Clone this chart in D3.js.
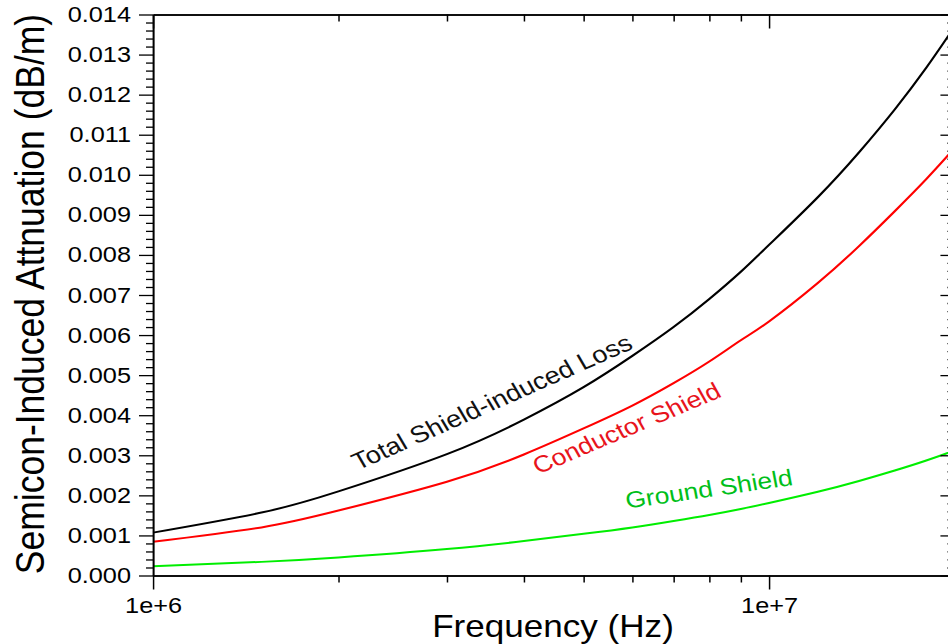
<!DOCTYPE html>
<html>
<head>
<meta charset="utf-8">
<script src="https://cdn.jsdelivr.net/npm/d3@7"></script>
<style>
  body { margin: 0; background: #fff; }
  svg { display: block; font-family: "Liberation Sans", Arial, Helvetica, sans-serif; }
</style>
</head>
<body>
<div id="wrapper"></div>
<script>
// Data
const freqs = [1e6, 1.5e6, 2e6, 3e6, 4e6, 5e6, 6e6, 7e6, 8e6, 9e6, 1e7, 1.2e7, 1.4e7, 1.6e7, 1.8e7, 2e7];
const totalLoss = [0.00107, 0.00157, 0.0021, 0.00303, 0.00389, 0.0047, 0.00548, 0.0062, 0.0069, 0.00758, 0.00825, 0.00944, 0.01056, 0.01163, 0.01267, 0.01369];
const conductorShield = [0.00084, 0.0012, 0.00162, 0.00234, 0.00302, 0.00367, 0.00424, 0.0048, 0.00534, 0.00587, 0.00634, 0.0073, 0.00822, 0.00909, 0.00989, 0.01066];
const groundShield = [0.00023, 0.00034, 0.00045, 0.00066, 0.00086, 0.00104, 0.0012, 0.00136, 0.00151, 0.00166, 0.00181, 0.00209, 0.00236, 0.00262, 0.00287, 0.00312];

const seriesNames = ["Total Shield-induced Loss", "Conductor Shield", "Ground Shield"];
const lineColors = ["#000000", "#ff0000", "#00ee00"];
const labelColors = ["#111111", "#e8141c", "#00bf1a"];
const labelSizes = [23.7, 23.3, 23];
// label anchor (freq, value) and angle
const labelFreqs = [2.15e6, 4.22e6, 5.88e6];
const labelValues = [0.00262, 0.00252, 0.00167];
const labelAngles = [-27, -26, -9.3];

const yMajorTicks = d3.range(0, 0.01401, 0.001);
const yMinorTicks = d3.range(0, 0.014, 0.0002).filter((d, i) => i % 5 !== 0);
const xMajorTicks = [1e6, 1e7];
const xMinorTicks = [2e6, 3e6, 4e6, 5e6, 6e6, 7e6, 8e6, 9e6];

// Dimensions (picture is horizontally stretched)
const sx = 1.15;
const width = 948;
const height = 644;
const decade = 616 / sx;
const plotLeft = 153 / sx;
const plotRight = plotLeft + decade * Math.log10(20);
const plotTop = 14.5;
const plotBottom = 575.5;

const svg = d3.select("#wrapper")
  .append("svg")
    .attr("width", width)
    .attr("height", height);

const root = svg.append("g")
  .attr("transform", `scale(${sx},1)`);

// Scales
const xScale = d3.scaleLog()
  .domain([1e6, 2e7])
  .range([plotLeft, plotRight]);

const yScale = d3.scaleLinear()
  .domain([0, 0.014])
  .range([plotBottom, plotTop]);

// Lines
const series = [totalLoss, conductorShield, groundShield];
const lineGen = d3.line()
  .x((d, i) => xScale(freqs[i]))
  .y(d => yScale(d))
  .curve(d3.curveNatural);

root.append("g")
  .selectAll("path")
  .data(series)
  .join("path")
    .attr("d", d => lineGen(d))
    .attr("fill", "none")
    .attr("stroke", (d, i) => lineColors[i])
    .attr("stroke-width", 2);

// Axes
const majorLen = 14 / sx;
const minorLen = 7 / sx;

function styleAxis(g) {
  g.selectAll("path.domain").attr("stroke", "#000").attr("stroke-width", 1.4);
  g.selectAll(".tick line").attr("stroke", "#000").attr("stroke-width", 1.3);
  g.selectAll(".tick text")
    .attr("fill", "#000")
    .style("font-size", "22px")
    .style("font-family", "\"Liberation Sans\", Arial, Helvetica, sans-serif");
}

// left
root.append("g")
  .attr("transform", `translate(${plotLeft},0)`)
  .call(d3.axisLeft(yScale).tickValues(yMajorTicks).tickFormat(d3.format(".3f"))
    .tickSize(majorLen).tickSizeOuter(0).tickPadding(7))
  .call(styleAxis);
root.append("g")
  .attr("transform", `translate(${plotLeft},0)`)
  .call(d3.axisLeft(yScale).tickValues(yMinorTicks).tickFormat("")
    .tickSize(minorLen).tickSizeOuter(0))
  .call(styleAxis);

// right (ticks inward)
root.append("g")
  .attr("transform", `translate(${plotRight},0)`)
  .call(d3.axisLeft(yScale).tickValues(yMajorTicks).tickFormat("")
    .tickSize(majorLen).tickSizeOuter(0))
  .call(styleAxis);
root.append("g")
  .attr("transform", `translate(${plotRight},0)`)
  .call(d3.axisLeft(yScale).tickValues(yMinorTicks).tickFormat("")
    .tickSize(minorLen).tickSizeOuter(0))
  .call(styleAxis);

// bottom
root.append("g")
  .attr("transform", `translate(0,${plotBottom})`)
  .call(d3.axisBottom(xScale).tickValues(xMajorTicks).tickFormat(d3.format(".0e"))
    .tickSize(14).tickSizeOuter(0).tickPadding(8))
  .call(styleAxis);
root.append("g")
  .attr("transform", `translate(0,${plotBottom})`)
  .call(d3.axisBottom(xScale).tickValues(xMinorTicks).tickFormat("")
    .tickSize(7).tickSizeOuter(0))
  .call(styleAxis);

// top (ticks inward)
root.append("g")
  .attr("transform", `translate(0,${plotTop})`)
  .call(d3.axisTop(xScale).tickValues(xMajorTicks).tickFormat("")
    .tickSize(-14).tickSizeOuter(0))
  .call(styleAxis);
root.append("g")
  .attr("transform", `translate(0,${plotTop})`)
  .call(d3.axisTop(xScale).tickValues(xMinorTicks).tickFormat("")
    .tickSize(-7).tickSizeOuter(0))
  .call(styleAxis);

// Curve labels
root.append("g")
  .selectAll("text")
  .data(seriesNames)
  .join("text")
    .attr("transform", (d, i) =>
      `translate(${xScale(labelFreqs[i])},${yScale(labelValues[i])}) rotate(${labelAngles[i]})`)
    .attr("fill", (d, i) => labelColors[i])
    .style("font-size", (d, i) => `${labelSizes[i]}px`)
    .text(d => d);

// Axis titles
root.append("text")
  .attr("transform", `translate(38,294) rotate(-90)`)
  .attr("text-anchor", "middle")
  .style("font-size", "35.5px")
  .attr("fill", "#000")
  .text("Semicon-Induced Attnuation (dB/m)");

root.append("text")
  .attr("x", 553 / sx)
  .attr("y", 637)
  .attr("text-anchor", "middle")
  .style("font-size", "30.5px")
  .attr("fill", "#000")
  .text("Frequency (Hz)");
</script>
</body>
</html>
